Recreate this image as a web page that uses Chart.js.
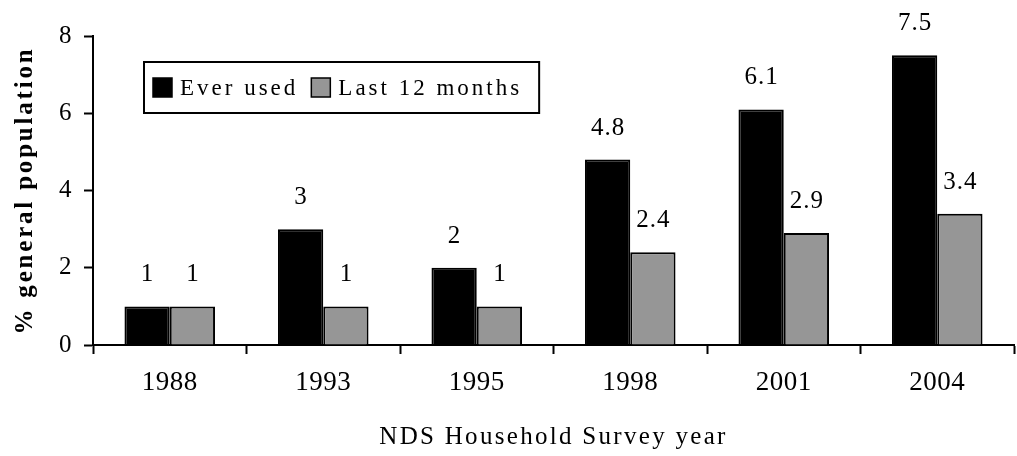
<!DOCTYPE html>
<html>
<head>
<meta charset="utf-8">
<script src="https://cdn.jsdelivr.net/npm/chart.js@4"></script>
<style>
  html, body { margin: 0; padding: 0; background: #fff; }
  #wrap { width: 1017px; height: 456px; }
</style>
</head>
<body>
<div id="wrap"><canvas id="bar-chart"></canvas></div>
<script>
// Dados
const years = ['1988', '1993', '1995', '1998', '2001', '2004'];
const everUsed = [1, 3, 2, 4.8, 6.1, 7.5];
const last12Months = [1, 1, 1, 2.4, 2.9, 3.4];
const yTicks = [0, 2, 4, 6, 8];

const FONT = '"Liberation Serif", "DejaVu Serif", serif';

// espaçamento entre letras (imita a fonte larga do original)
const spacing = {
    x: { labels: '0.5px', title: '2.3px' },
    y: { labels: '0.5px', title: '2.8px' }
};

function withSpacing(fn, value) {
    return function (...args) {
        this.ctx.save();
        this.ctx.letterSpacing = value;
        fn.apply(this, args);
        this.ctx.restore();
    };
}

const letterSpacingAxes = {
    id: 'letterSpacingAxes',
    beforeDraw(chart) {
        Object.keys(spacing).forEach(id => {
            const scale = chart.scales[id];
            if (!scale || scale._spaced) return;
            scale.drawLabels = withSpacing(scale.drawLabels, spacing[id].labels);
            scale.drawTitle = withSpacing(scale.drawTitle, spacing[id].title);
            scale._spaced = true;
        });
    }
};

// rótulos de valor acima das barras
const valueLabels = {
    id: 'valueLabels',
    afterDatasetsDraw(chart) {
        const ctx = chart.ctx;
        ctx.save();
        ctx.font = '25px ' + FONT;
        ctx.letterSpacing = '1px';
        ctx.fillStyle = '#000';
        ctx.textAlign = 'center';
        ctx.textBaseline = 'alphabetic';
        chart.data.datasets.forEach((ds, i) => {
            chart.getDatasetMeta(i).data.forEach((bar, j) => {
                // não deixar o rótulo sair pelo topo
                const y = Math.max(bar.y - 25, 22);
                ctx.fillText(String(ds.data[j]), bar.x + 0.5, y);
            });
        });
        ctx.restore();
    }
};

// legenda dentro da área do gráfico, com moldura
const boxLegend = {
    id: 'boxLegend',
    afterDraw(chart) {
        const ctx = chart.ctx;
        const area = chart.chartArea;
        const x0 = area.left + 51, y0 = area.top + 26, h = 51;
        const cy = y0 + h / 2;
        ctx.save();
        ctx.font = '23px ' + FONT;
        ctx.letterSpacing = '3px';
        ctx.textBaseline = 'middle';
        let x = x0 + 9;
        chart.data.datasets.forEach(ds => {
            ctx.fillStyle = ds.backgroundColor;
            ctx.fillRect(x, cy - 9.5, 19, 19);
            ctx.strokeStyle = '#000';
            ctx.lineWidth = 1.5;
            ctx.strokeRect(x, cy - 9.5, 19, 19);
            x += 27;
            ctx.fillStyle = '#000';
            ctx.fillText(ds.label, x, cy + 1);
            x += ctx.measureText(ds.label).width + 13;
        });
        ctx.lineWidth = 2;
        ctx.strokeRect(x0, y0, x - x0 + 4, h);
        ctx.restore();
    }
};

new Chart(document.getElementById('bar-chart').getContext('2d'), {
    type: 'bar',
    data: {
        labels: years,
        datasets: [
            {
                label: 'Ever used',
                data: everUsed,
                backgroundColor: '#000000',
                borderColor: '#000000',
                borderWidth: 2
            },
            {
                label: 'Last 12 months',
                data: last12Months,
                backgroundColor: '#969696',
                borderColor: '#000000',
                borderWidth: 2
            }
        ]
    },
    options: {
        responsive: true,
        maintainAspectRatio: false,
        animation: false,
        datasets: { bar: { categoryPercentage: 0.59, barPercentage: 1 } },
        layout: { padding: { top: 36, right: 3, left: 0, bottom: 0 } },
        plugins: {
            legend: { display: false },
            tooltip: { enabled: false }
        },
        scales: {
            x: {
                afterFit(scale) { scale.height = 111; },
                grid: { drawOnChartArea: false, tickLength: 9, color: '#000', tickWidth: 2, offset: true },
                border: { color: '#000', width: 2 },
                ticks: { color: '#000', font: { family: FONT, size: 27 }, padding: 13 },
                title: {
                    display: true,
                    text: 'NDS Household Survey year',
                    color: '#000',
                    font: { family: FONT, size: 25 },
                    padding: { top: 4, bottom: 4 }
                }
            },
            y: {
                min: 0,
                max: 8,
                afterFit(scale) { scale.width = 93; },
                afterBuildTicks(axis) { axis.ticks = yTicks.map(v => ({ value: v })); },
                grid: { drawOnChartArea: false, tickLength: 9, color: '#000', tickWidth: 2 },
                border: { color: '#000', width: 2 },
                ticks: { color: '#000', font: { family: FONT, size: 25 }, padding: 12 },
                title: {
                    display: true,
                    text: '% general population',
                    color: '#000',
                    font: { family: FONT, size: 25, weight: 'bold' },
                    padding: { top: 11, bottom: 0 }
                }
            }
        }
    },
    plugins: [letterSpacingAxes, valueLabels, boxLegend]
});
</script>
</body>
</html>
